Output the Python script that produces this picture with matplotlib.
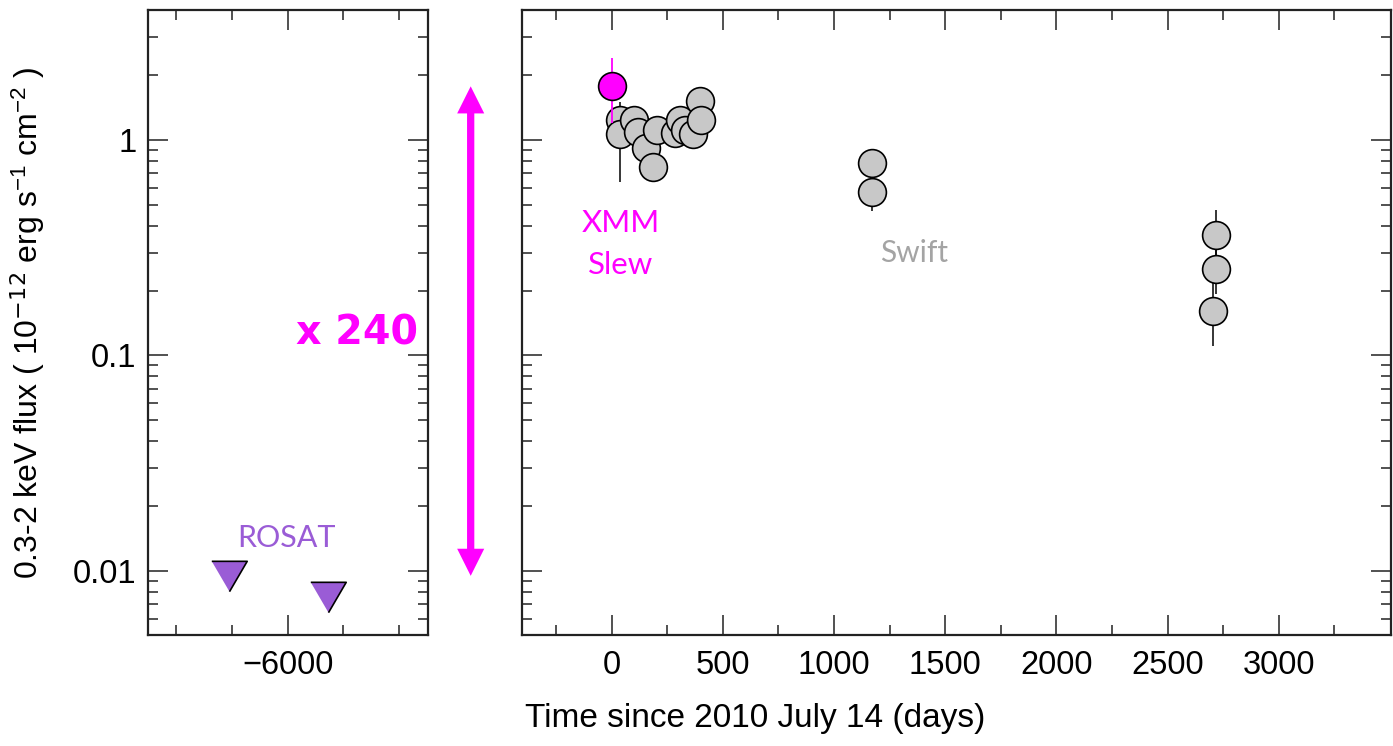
import numpy as np
import matplotlib
matplotlib.use("Agg")
import matplotlib.pyplot as plt
from matplotlib.patches import FancyArrowPatch
from matplotlib.transforms import blended_transform_factory
from matplotlib.ticker import FixedLocator, LogLocator, NullFormatter, FixedFormatter

plt.rcParams['font.family'] = ['Liberation Sans', 'DejaVu Sans']
plt.rcParams['mathtext.fontset'] = 'custom'
plt.rcParams['mathtext.rm'] = 'Liberation Sans'
plt.rcParams['mathtext.it'] = 'Liberation Sans'
plt.rcParams['mathtext.bf'] = 'Liberation Sans:bold'

# ---------------- data ----------------
# ROSAT upper limits (left panel)
rosat_t = [-6263, -5820]
rosat_f = [0.0095, 0.0076]

# XMM slew detection
xmm_t = [0]
xmm_f = [1.77]
xmm_err_lo = [0.57]
xmm_err_hi = [0.63]

# Swift points
swift_t = [40, 40, 102, 120, 157, 187, 205, 285, 307, 330, 367, 397, 400,
           1169, 1172, 2716, 2720, 2705]
swift_f = [1.23, 1.066, 1.24, 1.09, 0.915, 0.747, 1.11, 1.07, 1.24, 1.11, 1.066, 1.51, 1.23,
           0.78, 0.57, 0.362, 0.252, 0.161]
swift_err_lo = [0.08, 0.43, 0.08, 0.08, 0.07, 0.10, 0.08, 0.08, 0.08, 0.08, 0.08, 0.10, 0.08,
                0.04, 0.10, 0.09, 0.06, 0.05]
swift_err_hi = [0.08, 0.43, 0.08, 0.08, 0.07, 0.06, 0.08, 0.08, 0.08, 0.08, 0.08, 0.10, 0.08,
                0.04, 0.05, 0.11, 0.07, 0.06]

ytick_vals = [0.01, 0.1, 1]
ytick_labels = ['0.01', '0.1', '1']
left_major = [-6000]
left_minor = [-6500, -6250, -5750, -5500]
right_major = [0, 500, 1000, 1500, 2000, 2500, 3000]
right_minor = [-250, 250, 750, 1250, 1750, 2250, 2750, 3250]

factor_label = 'x 240'

# ---------------- style ----------------
MAG = '#ff00ff'
PURPLE = '#9a5cd6'
GRAY_FILL = '#c8c8c8'
GRAY_TEXT = '#a4a4a4'
TICK_FS = 23.5
LABEL_FONT = ['Lato', 'DejaVu Sans']

fig = plt.figure(figsize=(13.93, 7.46), dpi=100)
ax1 = fig.add_axes([0.1059, 0.1488, 0.2010, 0.8378])
ax2 = fig.add_axes([0.3747, 0.1488, 0.6236, 0.8378])

for ax in (ax1, ax2):
    ax.set_yscale('log')
    ax.set_ylim(0.00505, 4.0)
    ax.yaxis.set_major_locator(FixedLocator(ytick_vals))
    ax.yaxis.set_minor_locator(LogLocator(base=10, subs=np.arange(2, 10)))
    ax.yaxis.set_minor_formatter(NullFormatter())
    ax.tick_params(which='both', direction='in', top=True, right=True,
                   width=1.1, labelsize=TICK_FS, color='#222222')
    ax.tick_params(which='major', length=14.5)
    ax.tick_params(which='minor', length=7.2)
    ax.tick_params(axis='x', pad=11)
    ax.tick_params(axis='y', pad=8)
    for s in ax.spines.values():
        s.set_linewidth(1.6)
        s.set_color('#222222')

ax1.yaxis.set_major_formatter(FixedFormatter(ytick_labels))
ax2.yaxis.set_major_formatter(NullFormatter())

ax1.set_xlim(-6630, -5372)
ax1.xaxis.set_major_locator(FixedLocator(left_major))
ax1.xaxis.set_minor_locator(FixedLocator(left_minor))
ax1.xaxis.set_major_formatter(FixedFormatter(['\u22126000']))

ax2.set_xlim(-403, 3503)
ax2.xaxis.set_major_locator(FixedLocator(right_major))
ax2.xaxis.set_minor_locator(FixedLocator(right_minor))
ax2.xaxis.set_major_formatter(FixedFormatter([str(v) for v in right_major]))

# ROSAT upper limits
tri = [(-1, 0.857), (1, 0.857), (0, -0.857)]
ax1.plot(rosat_t, rosat_f, linestyle='none', marker=tri, markersize=25.5,
         markerfacecolor=PURPLE, markeredgecolor='black', markeredgewidth=1.2, zorder=3)
ax1.text(-6005, 0.0143, 'ROSAT', color=PURPLE, fontsize=22, family=LABEL_FONT,
         ha='center', va='center')
ax1.text(-5688, 0.126, factor_label, color=MAG, fontsize=28.5, family=['DejaVu Sans'],
         fontweight='bold', ha='center', va='center')

# Swift points
ax2.errorbar(swift_t, swift_f, yerr=[swift_err_lo, swift_err_hi], fmt='o', markersize=20,
             markerfacecolor=GRAY_FILL, markeredgecolor='black', markeredgewidth=1.2,
             ecolor='black', elinewidth=1.1, capsize=0, zorder=3)
# XMM slew
ax2.errorbar(xmm_t, xmm_f, yerr=[xmm_err_lo, xmm_err_hi], fmt='o', markersize=20,
             markerfacecolor=MAG, markeredgecolor='black', markeredgewidth=1.2,
             ecolor=MAG, elinewidth=1.3, capsize=0, zorder=4)

ax2.text(42, 0.413, 'XMM', color=MAG, fontsize=22.5, family=LABEL_FONT,
         ha='center', va='center')
ax2.text(42, 0.263, 'Slew', color=MAG, fontsize=22.5, family=LABEL_FONT,
         ha='center', va='center')
ax2.text(1358, 0.299, 'Swift', color=GRAY_TEXT, fontsize=21.5, family=LABEL_FONT,
         ha='center', va='center')

# axis labels
fig.text(28 / 1393, 1 - 323 / 746,
         '0.3-2 keV flux ( 10$^{\\mathsf{-12}}$ erg s$^{-1}$ cm$^{-2}$ )',
         rotation=90, ha='center', va='center', fontsize=23)
fig.text(755 / 1393, 1 - 718 / 746, 'Time since 2010 July 14 (days)',
         ha='center', va='center', fontsize=24)

# double arrow between panels: from ROSAT level to XMM level
tr = blended_transform_factory(fig.transFigure, ax1.transData)
xa = 470.7 / 1393
y_top = xmm_f[0]
y_bot = rosat_f[0]
y_mid = np.sqrt(y_top * y_bot)
shaft = FancyArrowPatch((xa, y_bot), (xa, y_top), transform=tr, arrowstyle='-',
                        linewidth=5, color=MAG, shrinkA=14, shrinkB=14,
                        capstyle='butt', mutation_scale=1)
fig.add_artist(shaft)
for yend in (y_top, y_bot):
    head = FancyArrowPatch((xa, y_mid), (xa, yend), transform=tr,
                           arrowstyle='simple,head_length=19.5,head_width=19.5,tail_width=5',
                           mutation_scale=1, linewidth=0, color=MAG, shrinkA=0, shrinkB=0)
    fig.add_artist(head)

fig.savefig('out.png', dpi=100)
